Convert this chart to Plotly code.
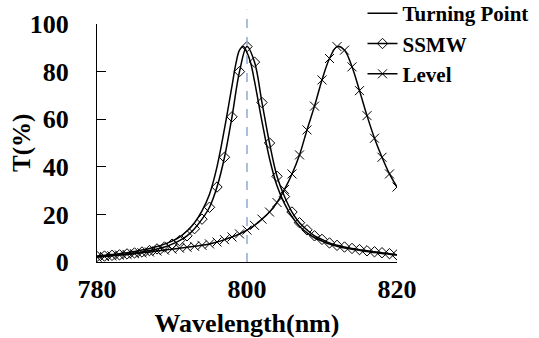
import plotly.graph_objects as go

# Wavelength grid (nm)
wl = [780, 781, 782, 783, 784, 785, 786, 787, 788, 789, 790, 791, 792, 793, 794,
      795, 796, 797, 798, 799, 800, 801, 802, 803, 804, 805, 806, 807, 808, 809,
      810, 811, 812, 813, 814, 815, 816, 817, 818, 819, 820]

# Turning Point (line only)
tp_wl = [780, 781, 782, 783, 784, 785, 786, 787, 788, 789, 790, 791, 792, 793, 794,
         795, 796, 797, 798, 798.5, 799, 799.5, 800, 800.5, 801, 802, 803, 804, 805,
         806, 807, 808, 809, 810, 811, 812, 813, 814, 815, 816, 817, 818, 819, 820]
tp_T = [2.5, 2.8, 3.1, 3.5, 3.9, 4.4, 5.0, 5.7, 6.5, 7.5, 8.8, 10.5, 13.0, 16.5, 21.5,
        28.5, 40.0, 56.0, 74.0, 83.0, 89.0, 90.5, 88.0, 83.5, 76.0, 59.0, 43.5, 32.0, 24.5,
        19.0, 15.0, 12.2, 10.2, 8.8, 7.5, 6.6, 5.9, 5.4, 4.9, 4.4, 4.0, 3.6, 3.3, 2.9]

# SSMW (line + open diamonds)
ssmw_T = [2.3, 2.5, 2.8, 3.0, 3.4, 3.8, 4.2, 4.8, 5.5, 6.3, 7.5, 9.0, 11.0, 14.0, 18.0,
          23.0, 31.5, 44.0, 61.0, 80.0, 90.5, 84.0, 67.0, 50.0, 36.0, 27.5, 21.0, 16.5, 13.5, 11.0,
          9.5, 8.0, 7.0, 6.3, 5.7, 5.2, 4.7, 4.3, 3.9, 3.5, 3.0]

# Level (line + x markers)
level_T = [2.0, 2.3, 2.6, 2.9, 3.2, 3.5, 3.9, 4.2, 4.6, 5.0, 5.4, 5.8, 6.2, 6.6, 7.0,
           7.6, 8.4, 9.4, 10.5, 11.8, 13.4, 15.4, 18.0, 21.0, 25.0, 30.5, 37.0, 45.0, 55.5, 65.5,
           76.5, 85.5, 90.5, 89.0, 82.0, 72.0, 61.5, 52.0, 44.0, 37.0, 31.5]

x_ticks = [780, 800, 820]
y_ticks = [0, 20, 40, 60, 80, 100]
ref_wl = 800

FONT = "Liberation Serif, Times New Roman, serif"

fig = go.Figure()
fig.add_trace(go.Scatter(x=tp_wl, y=tp_T, name="Turning Point", mode="lines",
                         line=dict(color="black", width=1.5, shape="spline")))
fig.add_trace(go.Scatter(x=wl, y=ssmw_T, name="SSMW", mode="lines+markers",
                         line=dict(color="black", width=1.5, shape="spline"),
                         marker=dict(symbol="diamond-open", size=8, color="black",
                                     line=dict(width=1, color="black"))))
fig.add_trace(go.Scatter(x=wl, y=level_T, name="Level", mode="lines+markers",
                         line=dict(color="black", width=1.5, shape="spline"),
                         marker=dict(symbol="x-thin", size=9, color="black",
                                     line=dict(width=1, color="black"))))

fig.add_shape(type="line", xref="x", yref="paper", x0=ref_wl, x1=ref_wl, y0=0, y1=1.06,
              line=dict(color="#8eabcf", width=1.5, dash="dash"), layer="above")

fig.add_annotation(text="T(%)", xref="paper", yref="paper", x=-0.25, y=0.5,
                   xanchor="center", yanchor="middle", textangle=-90, showarrow=False,
                   font=dict(size=25, family=FONT, color="black", weight="bold"))

fig.update_layout(
    width=539, height=338,
    margin=dict(l=97, r=142, t=24, b=76, autoexpand=False),
    plot_bgcolor="white", paper_bgcolor="white",
    font=dict(family=FONT, color="black", size=26, weight="bold"),
    showlegend=True,
    legend=dict(x=0.885, y=1.13, xanchor="left", yanchor="top",
                font=dict(family=FONT, size=21, color="black", weight="bold"),
                bgcolor="rgba(0,0,0,0)", itemwidth=30, tracegroupgap=0),
    xaxis=dict(range=[780, 820], tickvals=x_ticks, ticktext=[str(v) for v in x_ticks],
               showgrid=False, zeroline=False, showline=True, linecolor="black", linewidth=1,
               ticks="", ticklabelstandoff=4, automargin=False,
               title=dict(text="Wavelength(nm)", font=dict(size=26, family=FONT, weight="bold"),
                          standoff=15)),
    yaxis=dict(range=[0, 100], tickvals=y_ticks, ticktext=[str(v) for v in y_ticks],
               showgrid=False, zeroline=False, showline=True, linecolor="black", linewidth=1,
               ticks="inside", ticklen=9, tickcolor="black", tickwidth=1,
               ticklabelstandoff=22, automargin=False),
)

fig.write_html("out.html", post_script="document.body.style.margin='0';",
               config={"displayModeBar": False})
